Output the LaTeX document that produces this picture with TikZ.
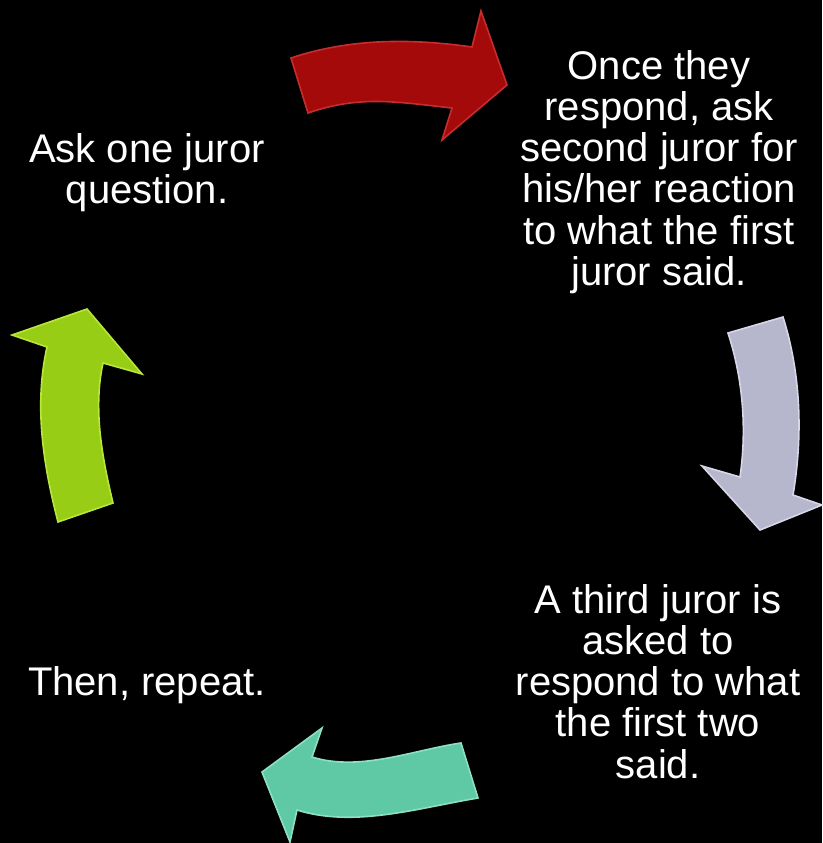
\documentclass[tikz,border=0pt]{standalone}
\usepackage{fontspec}
\setmainfont{Liberation Sans}
\begin{document}
\begin{tikzpicture}[x=1pt,y=-1pt,
  txt/.style={text=white,font=\fontsize{40}{41}\selectfont,anchor=base,inner sep=0pt},
  arrowshape/.style={line width=1.6pt,line join=miter,miter limit=20},
  redarrow/.style={arrowshape,fill={rgb,255:red,165;green,10;blue,10},draw={rgb,255:red,200;green,45;blue,45}},
  grayarrow/.style={arrowshape,fill={rgb,255:red,182;green,182;blue,205},draw={rgb,255:red,215;green,215;blue,232}},
  tealarrow/.style={arrowshape,fill={rgb,255:red,95;green,200;blue,165},draw={rgb,255:red,140;green,225;blue,195}},
  greenarrow/.style={arrowshape,fill={rgb,255:red,152;green,205;blue,22},draw={rgb,255:red,185;green,230;blue,60}}
]
\useasboundingbox (0,0) rectangle (822,843);
\fill[black] (0,0) rectangle (822,843);

% red arrow (top)
\draw[redarrow] (291,58) .. controls +(60,-20) and +(-60,-8.5) .. (472,47)
  -- (481,11) -- (507,85) -- (442,140) -- (452,108)
  .. controls +(-55,-6) and +(52,-18) .. (308,113) -- cycle;

% gray arrow (right)
\draw[grayarrow] (783,317) .. controls +(18,57) and +(10,-59) .. (793,495)
  -- (822,505) -- (760,530) -- (702,466) -- (740,477)
  .. controls +(7,-48) and +(15,46) .. (728,333) -- cycle;

% teal arrow (bottom)
\draw[tealarrow] (478,798) .. controls +(-60,10) and +(57,18) .. (297,810)
  -- (290,842) -- (262,772) -- (322,728) -- (312,757)
  .. controls +(48,15) and +(-48,7) .. (461,743) -- cycle;

% green arrow (left)
\draw[greenarrow] (58,522) .. controls +(-15,-58) and +(-13,58) .. (47,347)
  -- (12,335) -- (87,309) -- (142,374) -- (103,363)
  .. controls +(-10,46) and +(-11,-46) .. (113,503) -- cycle;

\node[txt] (ask) at (147,162) {\begin{tabular}[t]{@{}c@{}}Ask one juror\\question.\end{tabular}};
\node[txt] (once) at (659,79) {\begin{tabular}[t]{@{}c@{}}Once they\\respond, ask\\second juror for\\his/her reaction\\to what the first\\juror said.\end{tabular}};
\node[txt] (third) at (658,613) {\begin{tabular}[t]{@{}c@{}}A third juror is\\asked to\\respond to what\\the first two\\said.\end{tabular}};
\node[txt] (then) at (147,695) {Then, repeat.};
\end{tikzpicture}
\end{document}
